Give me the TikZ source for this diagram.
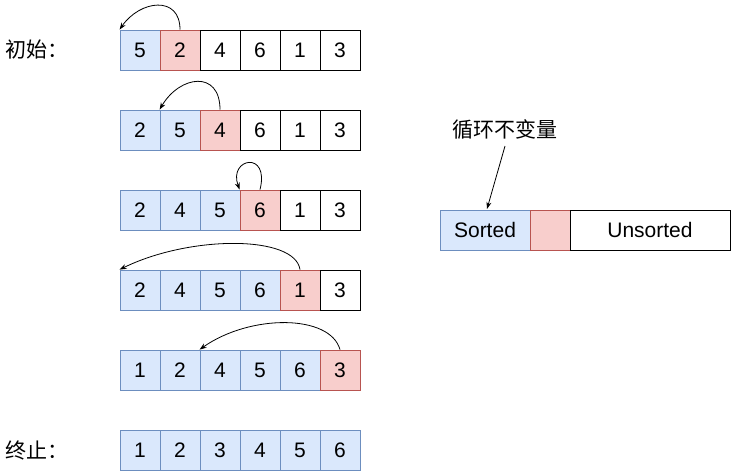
\documentclass[tikz,border=0pt]{standalone}
\usepackage{fontspec}
\setmainfont{Liberation Sans}
\newfontfamily\cjk{Noto Sans CJK SC}
\usetikzlibrary{arrows.meta}
\definecolor{bfill}{HTML}{DAE8FC}
\definecolor{bline}{HTML}{6C8EBF}
\definecolor{rfill}{HTML}{F8CECC}
\definecolor{rline}{HTML}{B85450}
\tikzset{
  cell/.style={draw=black, fill=white, minimum width=40pt, minimum height=40pt, inner sep=0pt, line width=0.8pt, font=\fontsize{21}{24}\selectfont},
  bcell/.style={cell, draw=bline, fill=bfill},
  rcell/.style={cell, draw=rline, fill=rfill},
  mov/.style={-{Stealth[length=7pt,width=5pt]}, line width=0.8pt},
  lbl/.style={font=\cjk\fontsize{21}{24}\selectfont, inner sep=0pt}
}
\begin{document}
\begin{tikzpicture}[x=1pt,y=-1pt]
\useasboundingbox (0,0) rectangle (731,471);
\foreach \row/\yy/\vals in {
  1/50/{5/b,2/r,4/w,6/w,1/w,3/w},
  2/130/{2/b,5/b,4/r,6/w,1/w,3/w},
  3/210/{2/b,4/b,5/b,6/r,1/w,3/w},
  4/290/{2/b,4/b,5/b,6/b,1/r,3/w},
  5/370/{1/b,2/b,4/b,5/b,6/b,3/r},
  6/450/{1/b,2/b,3/b,4/b,5/b,6/b}} {
  \foreach \v/\s [count=\k] in \vals {
    \if b\s\def\sty{bcell}\else\if r\s\def\sty{rcell}\else\def\sty{cell}\fi\fi
    \node[\sty] (r\row c\k) at ({100+40*\k},\yy) {\v};
  }
}
% labels
\node[lbl, anchor=west] (start) at (5,50) {初始：};
\node[lbl, anchor=west] (end) at (5,450) {终止：};
% arrows
\draw[mov] (r1c2.north) .. controls (180,-5) and (140,0) .. (r1c1.north west);
\draw[mov] (r2c3.north) .. controls (220,70) and (180,75) .. (r2c2.north west);
\draw[mov] (r3c4.north) .. controls (270,150) and (228,158) .. (r3c4.north west);
\draw[mov] (r4c5.north) .. controls (295,235) and (190,235) .. (r4c1.north west);
\draw[mov] (r5c6.north) .. controls (330,314) and (250,314) .. (r5c3.north west);
% invariant panel
\node[bcell, minimum width=90pt] (sorted) at (485,230) {Sorted};
\node[rcell] (cur) at (550,230) {};
\node[cell, minimum width=160pt] (unsorted) at (650,230) {Unsorted};
\node[lbl] (inv) at (505,130) {循环不变量};
\coordinate (invtip) at (487,209);
\draw[mov] ([yshift=-6pt]inv.south) -- (invtip);
\end{tikzpicture}
\end{document}
